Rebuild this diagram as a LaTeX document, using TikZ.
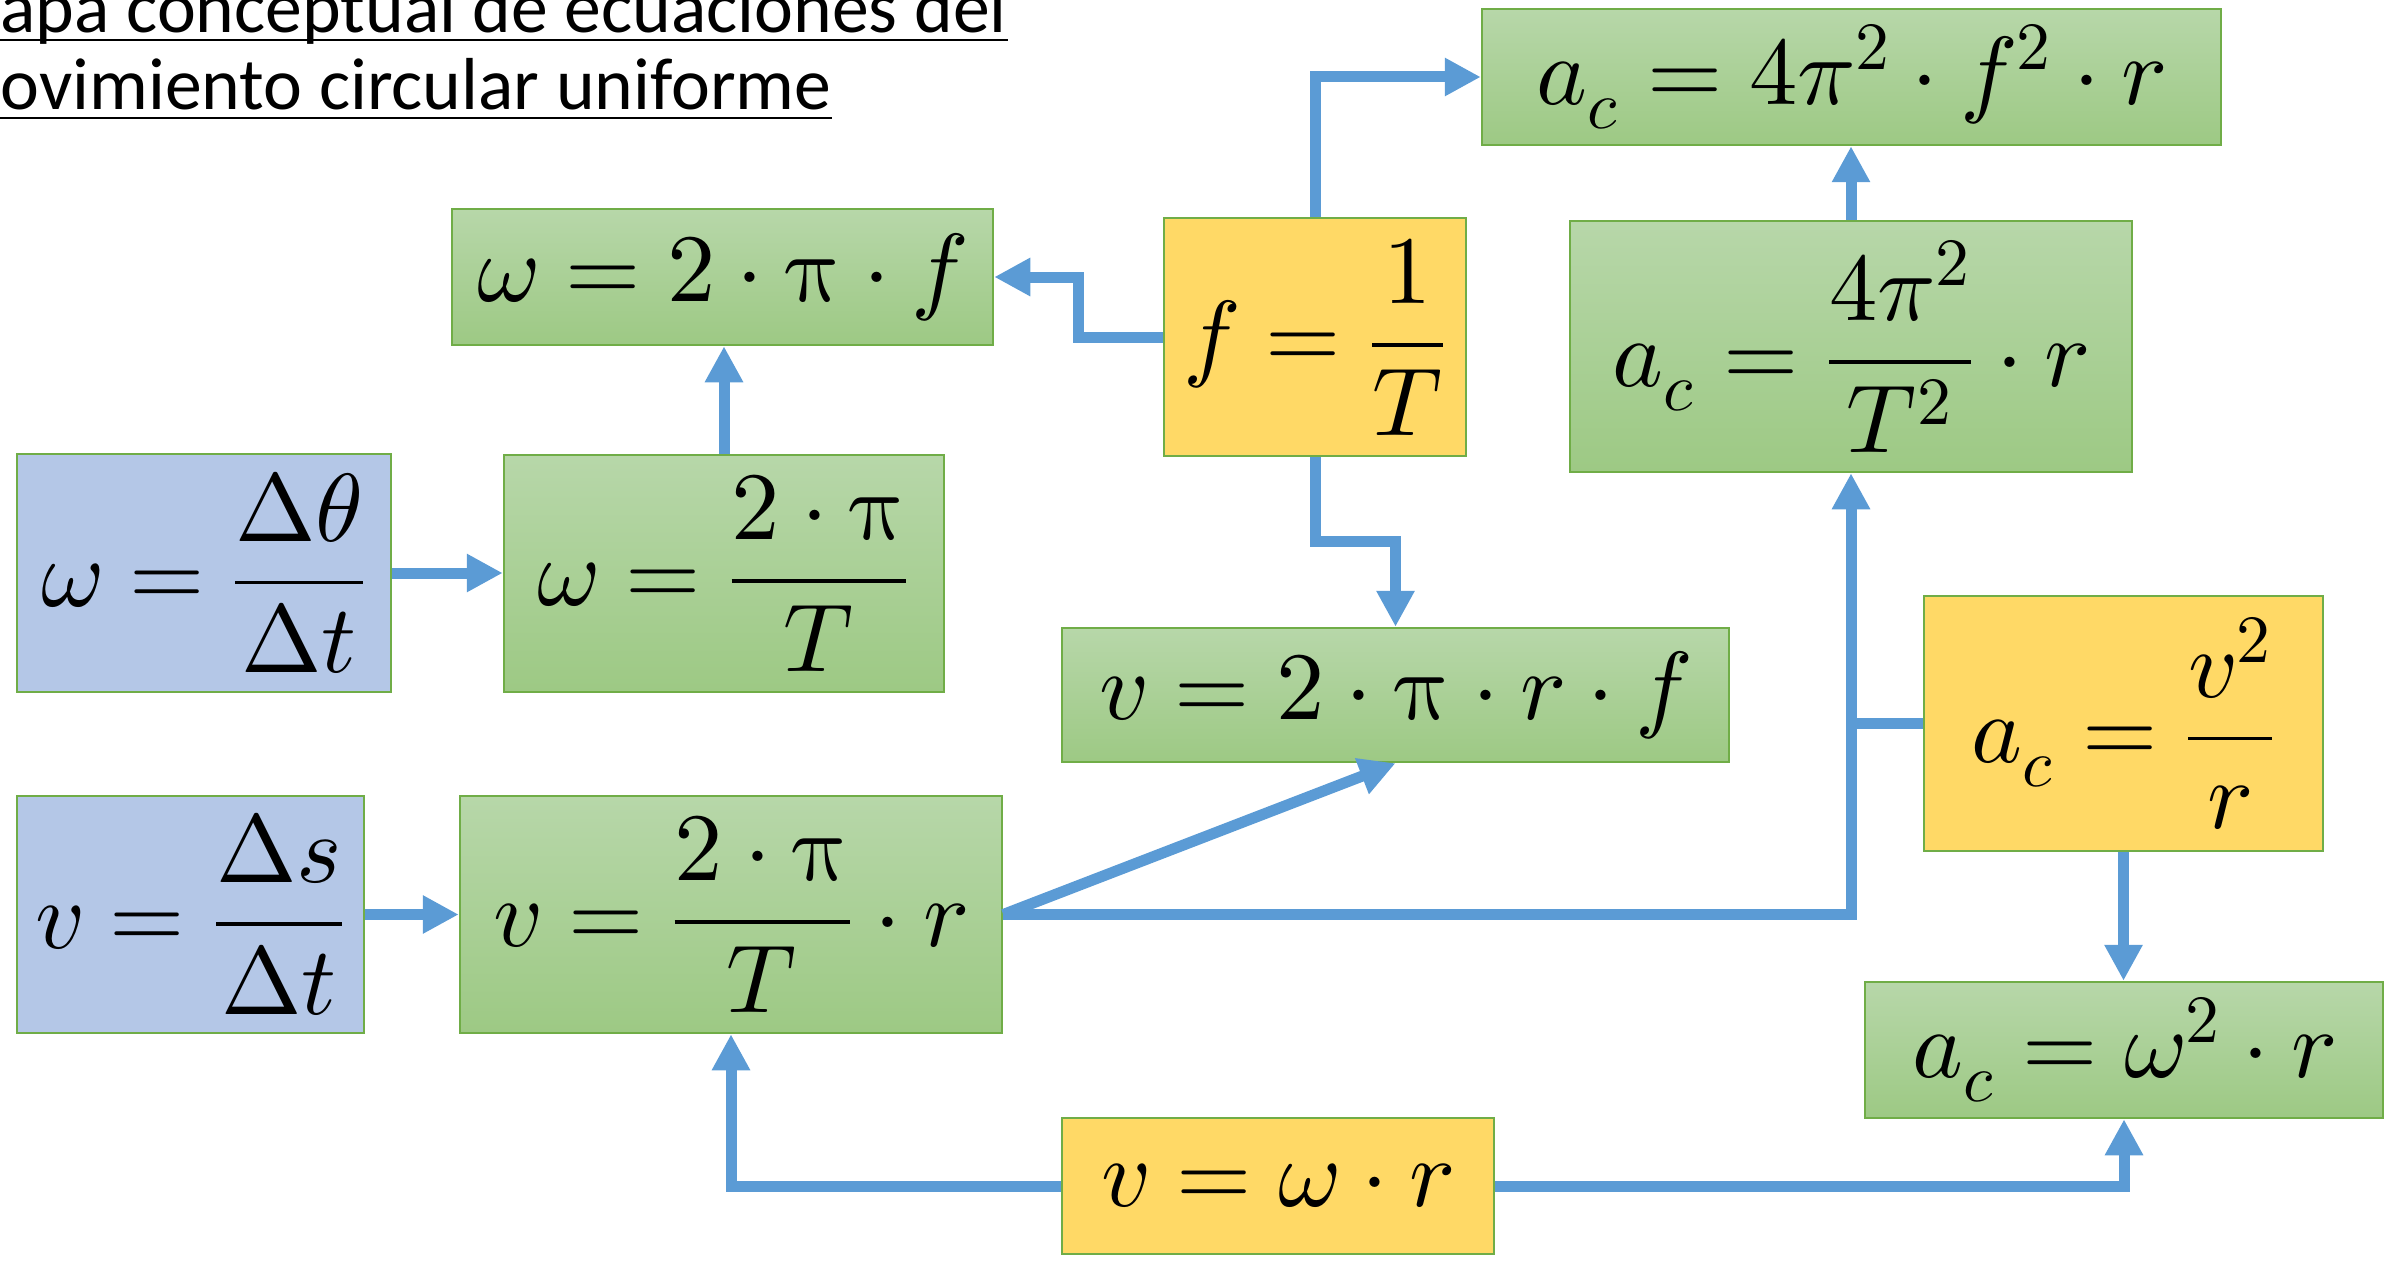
\documentclass[tikz,border=0pt]{standalone}
\usepackage{amsmath}
\usepackage{fontspec}
\usepackage{unicode-math}
\setmathfont{Latin Modern Math}
\newfontfamily\titlefont{Carlito}
\usetikzlibrary{arrows.meta,calc}
\definecolor{gtop}{HTML}{B7D7A9}
\definecolor{gbot}{HTML}{9DC984}
\definecolor{ybox}{HTML}{FFD966}
\definecolor{bluebox}{HTML}{B4C7E7}
\definecolor{bord}{HTML}{70AD47}
\definecolor{conncol}{HTML}{5B9BD5}
\begin{document}
\begin{tikzpicture}[x=0.3pt,y=-0.3pt,
  mathbox/.style={draw=bord,line width=0.75pt,inner sep=0pt,font=\fontsize{29}{35}\selectfont},
  gbox/.style={mathbox,top color=gtop,bottom color=gbot},
  ybx/.style={mathbox,fill=ybox},
  bbx/.style={mathbox,fill=bluebox},
  sz/.style 2 args={minimum width=#1*0.3pt,minimum height=#2*0.3pt},
  conn/.style={draw=conncol,line width=3.3pt},
  arr/.style={conn,-{Triangle[width=10.8pt,length=10.8pt]}},
  ttl/.style={anchor=base west,inner sep=0pt,font=\titlefont\fontsize{22.1}{26}\selectfont}
  ]
\useasboundingbox (0,0) rectangle (2395,1261);

% title
\node[ttl] (t1) at (0,33) {apa conceptual de ecuaciones del};
\node[ttl] (t2) at (0,110) {ovimiento circular uniforme};
\draw[line width=0.8pt] ($(t1.base west)+(-10,7)$) -- ($(t1.base east)+(0,7)$);
\draw[line width=0.8pt] ($(t2.base west)+(-10,8)$) -- ($(t2.base east)+(0,8)$);

% boxes
\node[gbox,sz={541}{136}] (w2pf) at (722.5,277) {$\omega = 2\cdot\symup{\pi}\cdot f$};
\node[ybx,sz={302}{238}] (fT) at (1315,337) {$f = \dfrac{1}{T}$};
\node[gbox,sz={739}{136}] (ac1) at (1851.5,77) {$a_c = 4\pi^2\cdot f^2\cdot r$};
\node[gbox,sz={562}{251}] (ac2) at (1851,346.5) {$a_c = \dfrac{4\pi^2}{T^2}\cdot r$};
\node[bbx,sz={374}{238}] (wdt) at (204,573) {$\omega = \dfrac{\Delta\theta}{\Delta t}$};
\node[gbox,sz={440}{237}] (w2pT) at (724,573.5) {$\omega = \dfrac{2\cdot\symup{\pi}}{T}$};
\node[gbox,sz={667}{134}] (v2prf) at (1395.5,695) {$v = 2\cdot\symup{\pi}\cdot r\cdot f$};
\node[ybx,sz={399}{255}] (acv) at (2123.5,723.5) {$a_c = \dfrac{v^2}{r}$};
\node[bbx,sz={347}{237}] (vdt) at (190.5,914.5) {$v = \dfrac{\Delta s}{\Delta t}$};
\node[gbox,sz={542}{237}] (v2pTr) at (731,914.5) {$v = \dfrac{2\cdot\symup{\pi}}{T}\cdot r$};
\node[gbox,sz={518}{136}] (acw) at (2124,1050) {$a_c = \omega^2\cdot r$};
\node[ybx,sz={432}{136}] (vwr) at (1278,1186) {$v = \omega\cdot r$};

% connectors
\coordinate (jA) at (1078,0);
\coordinate (jB) at (0,541);
\draw[arr] (fT.north) |- (ac1.west);
\draw[arr] (fT.west) -- (fT.west -| jA) |- (w2pf.east);
\draw[arr] (fT.south) -- (fT.south |- jB) -| (v2prf.north);
\draw[arr] (w2pT.north) -- (w2pT.north |- w2pf.south);
\draw[arr] (wdt.east) -- (wdt.east -| w2pT.west);
\draw[arr] (vdt.east) -- (v2pTr.west);
\draw[arr] (v2pTr.east) -- (v2prf.south);
\draw[arr] (v2pTr.east) -| (ac2.south);
\draw[conn] (acv.west) -- (acv.west -| ac2.south);
\draw[arr] (acv.south) -- (acv.south |- acw.north);
\draw[arr] (ac2.north) -- (ac2.north |- ac1.south);
\draw[arr] (vwr.west) -| (v2pTr.south);
\draw[arr] (vwr.east) -| (acw.south);
\end{tikzpicture}
\end{document}
